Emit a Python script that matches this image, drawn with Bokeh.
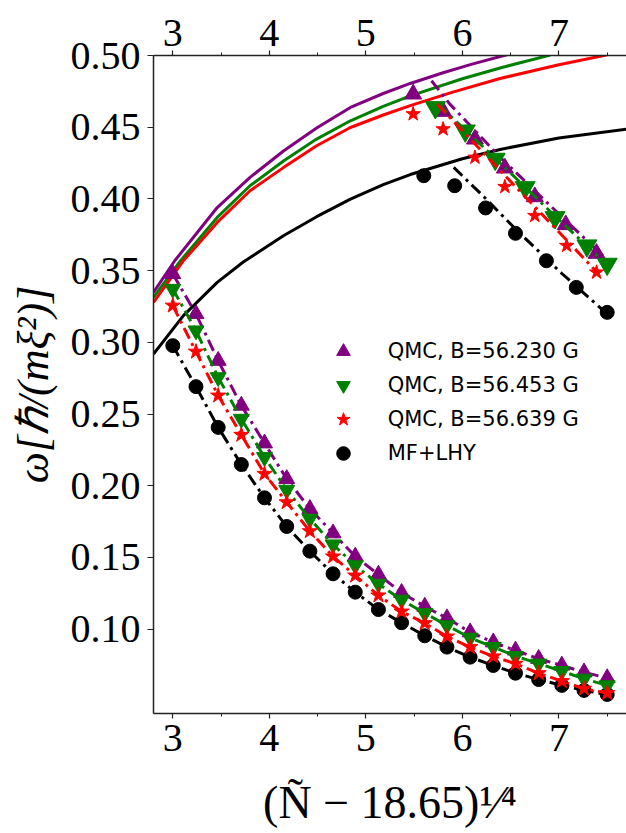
from bokeh.plotting import figure
from bokeh.models import (LinearAxis, FixedTicker, NumeralTickFormatter, Legend,
                          LegendItem, Range1d)
from bokeh.embed import file_html
from bokeh.resources import INLINE

# ---- ticks ----
x_ticks = [3, 4, 5, 6, 7]
x_minor_ticks = [3.5, 4.5, 5.5, 6.5, 7.5]
y_ticks = [0.10, 0.15, 0.20, 0.25, 0.30, 0.35, 0.40, 0.45, 0.50]

# ---- lower branch (QMC / MF+LHY points) ----
x_lower = [3.00, 3.24, 3.47, 3.71, 3.95, 4.18, 4.42, 4.66, 4.89, 5.13,
           5.37, 5.61, 5.84, 6.08, 6.32, 6.55, 6.79, 7.03, 7.26, 7.50]
purple_lower = [0.3477, 0.3198, 0.2872, 0.2559, 0.2296, 0.2048, 0.1839, 0.1669, 0.1507, 0.1381,
                0.1254, 0.1158, 0.1077, 0.0979, 0.0909, 0.0852, 0.0794, 0.0747, 0.0700, 0.0659]
green_lower = [0.3372, 0.3082, 0.2756, 0.2466, 0.2199, 0.1971, 0.1769, 0.1590, 0.1444, 0.1316,
               0.1205, 0.1111, 0.1026, 0.0940, 0.0875, 0.0812, 0.0759, 0.0707, 0.0654, 0.0608]
red_lower = [0.3256, 0.2935, 0.2629, 0.2355, 0.2083, 0.1885, 0.1683, 0.1507, 0.1374, 0.1235,
             0.1123, 0.1042, 0.0949, 0.0875, 0.0810, 0.0759, 0.0693, 0.0638, 0.0585, 0.0554]
black_lower = [0.2977, 0.2691, 0.2407, 0.2148, 0.1916, 0.1716, 0.1544, 0.1386, 0.1258, 0.1137,
               0.1045, 0.0954, 0.0875, 0.0805, 0.0747, 0.0693, 0.0649, 0.0608, 0.0573, 0.0545]

# ---- upper branch points ----
purple_upper_x = [5.49, 5.80, 6.13, 6.44, 6.75, 7.07, 7.39]
purple_upper_y = [0.4731, 0.4610, 0.4417, 0.4215, 0.4015, 0.3820, 0.3620]
green_upper_x = [5.72, 6.03, 6.34, 6.65, 6.96, 7.29, 7.50]
green_upper_y = [0.4638, 0.4475, 0.4278, 0.4080, 0.3871, 0.3674, 0.3546]
red_upper_x = [5.49, 5.80, 6.13, 6.44, 6.75, 7.08, 7.39]
red_upper_y = [0.4592, 0.4487, 0.4289, 0.4085, 0.3883, 0.3674, 0.3488]
black_upper_x = [5.60, 5.92, 6.24, 6.55, 6.87, 7.18, 7.50]
black_upper_y = [0.4162, 0.4092, 0.3937, 0.3760, 0.3569, 0.3383, 0.3209]

# ---- upper branch fits (dash-dot) ----
purple_fit_x = [5.68, 5.87, 6.40, 6.93, 7.51]
purple_fit_y = [0.4824, 0.4661, 0.4285, 0.3940, 0.3569]
green_fit_x = [5.75, 6.03, 6.50, 6.96, 7.50]
green_fit_y = [0.4660, 0.4480, 0.4180, 0.3880, 0.3540]
red_fit_x = [5.74, 6.05, 6.60, 7.00, 7.41]
red_fit_y = [0.4660, 0.4440, 0.4050, 0.3770, 0.3477]
black_fit_x = [5.91, 6.23, 6.55, 7.03, 7.50]
black_fit_y = [0.4220, 0.4010, 0.3790, 0.3480, 0.3198]

# ---- solid curves ----
purple_curve_x = [2.80, 3.02, 3.46, 3.80, 4.15, 4.49, 4.84, 5.18, 5.46, 5.80, 6.10, 6.46]
purple_curve_y = [0.3348, 0.3569, 0.3940, 0.4150, 0.4336, 0.4494, 0.4638, 0.4735, 0.4805, 0.4880, 0.4940, 0.5005]
green_curve_x = [2.80, 3.08, 3.46, 3.80, 4.15, 4.49, 4.84, 5.18, 5.46, 6.00, 6.40, 6.91]
green_curve_y = [0.3314, 0.3569, 0.3871, 0.4092, 0.4266, 0.4417, 0.4545, 0.4645, 0.4718, 0.4838, 0.4915, 0.5003]
red_curve_x = [2.80, 3.11, 3.46, 3.80, 4.15, 4.49, 4.84, 5.18, 5.46, 5.90, 6.39, 7.00, 7.50]
red_curve_y = [0.3279, 0.3569, 0.3836, 0.4057, 0.4220, 0.4371, 0.4498, 0.4585, 0.4650, 0.4745, 0.4840, 0.4935, 0.5005]
black_curve_x = [2.80, 3.11, 3.46, 3.73, 4.15, 4.49, 4.84, 5.18, 5.46, 6.00, 6.39, 7.00, 7.70]
black_curve_y = [0.2919, 0.3186, 0.3418, 0.3560, 0.3745, 0.3876, 0.3999, 0.4100, 0.4170, 0.4280, 0.4345, 0.4425, 0.4487]

labels = ["QMC, B=56.230 G", "QMC, B=56.453 G", "QMC, B=56.639 G", "MF+LHY"]

PURPLE, GREEN, RED, BLACK = "#800080", "#008000", "#ff0000", "#000000"
DASHDOT = "12 5 3 5"
LW = 3

p = figure(width=626, height=833, x_range=Range1d(2.8, 7.7), y_range=Range1d(0.0412, 0.50),
           output_backend="svg", toolbar_location=None,
           min_border_left=153, min_border_right=0, min_border_top=55, min_border_bottom=120)
p.outline_line_color = None
p.xgrid.visible = False
p.ygrid.visible = False
p.background_fill_color = "white"
p.border_fill_color = "white"

# solid curves
p.line(purple_curve_x, purple_curve_y, line_color=PURPLE, line_width=LW)
p.line(green_curve_x, green_curve_y, line_color=GREEN, line_width=LW)
p.line(red_curve_x, red_curve_y, line_color=RED, line_width=LW)
p.line(black_curve_x, black_curve_y, line_color=BLACK, line_width=LW)

# black series
p.line(x_lower, black_lower, line_color=BLACK, line_width=LW, line_dash=DASHDOT)
p.line(black_fit_x, black_fit_y, line_color=BLACK, line_width=LW, line_dash=DASHDOT)
r_black = p.scatter(x_lower, black_lower, marker="circle", size=14, color=BLACK)
p.scatter(black_upper_x, black_upper_y, marker="circle", size=14, color=BLACK)

# purple series
p.line(x_lower, purple_lower, line_color=PURPLE, line_width=LW, line_dash=DASHDOT)
p.line(purple_fit_x, purple_fit_y, line_color=PURPLE, line_width=LW, line_dash=DASHDOT)
r_purple = p.scatter(x_lower, purple_lower, marker="triangle", size=16, color=PURPLE)
p.scatter(purple_upper_x, purple_upper_y, marker="triangle", size=17, color=PURPLE)

# green series
p.line(x_lower, green_lower, line_color=GREEN, line_width=LW, line_dash=DASHDOT)
p.line(green_fit_x, green_fit_y, line_color=GREEN, line_width=LW, line_dash=DASHDOT)
r_green = p.scatter(x_lower, green_lower, marker="inverted_triangle", size=16, color=GREEN)
p.scatter(green_upper_x, green_upper_y, marker="inverted_triangle", size=20, color=GREEN)

# red series
p.line(x_lower, red_lower, line_color=RED, line_width=LW, line_dash=DASHDOT)
p.line(red_fit_x, red_fit_y, line_color=RED, line_width=LW, line_dash=DASHDOT)
r_red = p.scatter(x_lower, red_lower, marker="star", size=16, color=RED)
p.scatter(red_upper_x, red_upper_y, marker="star", size=15, color=RED)

# axes
AX_COLOR = "#222222"
TICK_FONT = "Liberation Serif"


def style_x(ax, standoff):
    ax.ticker = FixedTicker(ticks=x_ticks, minor_ticks=x_minor_ticks)
    ax.major_tick_out = 5
    ax.major_tick_in = 0
    ax.minor_tick_out = 3
    ax.minor_tick_in = 0
    ax.axis_line_width = 1.5
    ax.axis_line_color = AX_COLOR
    ax.major_tick_line_color = AX_COLOR
    ax.minor_tick_line_color = AX_COLOR
    ax.major_tick_line_width = 1.2
    ax.major_label_text_font = TICK_FONT
    ax.major_label_text_font_size = "40px"
    ax.major_label_text_color = "black"
    ax.major_label_standoff = standoff


xa = p.xaxis[0]
style_x(xa, 6)
xa.axis_label = "(Ñ − 18.65)¹⁄⁴"
xa.axis_label_text_font = TICK_FONT
xa.axis_label_text_font_style = "normal"
xa.axis_label_text_font_size = "46px"
xa.axis_label_text_color = "black"
xa.axis_label_standoff = 23

top = LinearAxis()
style_x(top, 5)
p.add_layout(top, "above")

ya = p.yaxis[0]
ya.ticker = FixedTicker(ticks=y_ticks, minor_ticks=[])
ya.formatter = NumeralTickFormatter(format="0.00")
ya.major_tick_out = 6
ya.major_tick_in = 0
ya.minor_tick_out = 0
ya.minor_tick_in = 0
ya.axis_line_width = 1.5
ya.axis_line_color = AX_COLOR
ya.major_tick_line_color = AX_COLOR
ya.major_tick_line_width = 1.2
ya.major_label_text_font = TICK_FONT
ya.major_label_text_font_size = "40px"
ya.major_label_text_color = "black"
ya.major_label_standoff = 7
ya.axis_label = "ω[ℏ/(mξ²)]"
ya.axis_label_text_font = TICK_FONT
ya.axis_label_text_font_style = "italic"
ya.axis_label_text_font_size = "44px"
ya.axis_label_text_color = "black"
ya.axis_label_standoff = 10

legend = Legend(items=[LegendItem(label=labels[0], renderers=[r_purple]),
                       LegendItem(label=labels[1], renderers=[r_green]),
                       LegendItem(label=labels[2], renderers=[r_red]),
                       LegendItem(label=labels[3], renderers=[r_black])],
                location=(172.7, 243.3))
legend.glyph_width = 34
legend.glyph_height = 34
legend.label_height = 34
legend.label_standoff = 28
legend.spacing = 0
legend.padding = 0
legend.margin = 0
legend.border_line_color = None
legend.background_fill_alpha = 0
legend.label_text_font = "DejaVu Sans"
legend.label_text_font_size = "21px"
legend.label_text_color = "black"
p.add_layout(legend)

open("out.html", "w").write(file_html(p, INLINE))
